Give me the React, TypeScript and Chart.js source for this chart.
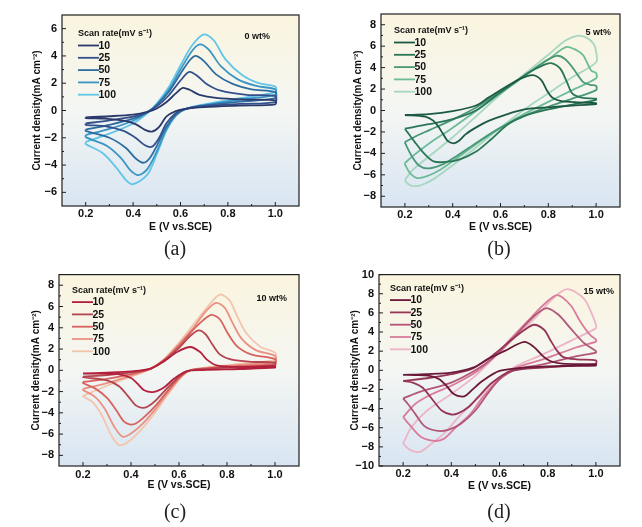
import React from "react"
import { Chart, registerables } from "chart.js"

Chart.register(...registerables)

type Pt = [number, number]

const RATES = ["10", "25", "50", "75", "100"]
const X_TICKS = [0.2, 0.4, 0.6, 0.8, 1.0]
const X_MINOR = [0.3, 0.5, 0.7, 0.9]
const X_TITLE = "E (V vs.SCE)"
const Y_TITLE = "Current density(mA cm\u207B\u00B2)"
const LEGEND_TITLE = "Scan rate(mV s\u207B\u00B9)"

// (a) 0 wt%  — each loop: anodic sweep 0.2 -> 1.0, then cathodic sweep 1.0 -> 0.2
const A10: Pt[] = [[0.2,-0.5],[0.3,-0.42],[0.4,-0.3],[0.46,-0.1],[0.5,0.15],[0.54,0.6],[0.58,1.25],[0.61,1.66],[0.64,1.5],[0.68,1.15],[0.75,0.92],[0.87,0.8],[1.0,0.75],
  [1.0,0.45],[0.85,0.36],[0.7,0.25],[0.62,0.12],[0.58,-0.05],[0.54,-0.45],[0.51,-1.2],[0.48,-1.55],[0.45,-1.42],[0.41,-1.0],[0.36,-0.75],[0.28,-0.6],[0.2,-0.55]]
const A25: Pt[] = [[0.2,-0.95],[0.3,-0.72],[0.4,-0.45],[0.46,-0.12],[0.5,0.3],[0.55,1.1],[0.6,2.2],[0.637,2.83],[0.67,2.55],[0.71,1.95],[0.77,1.45],[0.88,1.15],[1.0,1.05],
  [1.0,0.62],[0.85,0.48],[0.7,0.32],[0.62,0.12],[0.58,-0.2],[0.54,-0.95],[0.51,-2.0],[0.48,-2.65],[0.45,-2.55],[0.41,-2.0],[0.36,-1.5],[0.28,-1.15],[0.2,-1.05]]
const A50: Pt[] = [[0.2,-1.4],[0.3,-1.05],[0.4,-0.6],[0.46,-0.12],[0.5,0.4],[0.55,1.35],[0.6,2.7],[0.64,3.7],[0.665,4.0],[0.7,3.6],[0.75,2.65],[0.82,1.95],[0.9,1.55],[1.0,1.35],
  [1.0,0.9],[0.85,0.65],[0.7,0.35],[0.62,0.1],[0.58,-0.3],[0.54,-1.2],[0.5,-2.6],[0.47,-3.5],[0.443,-3.83],[0.41,-3.5],[0.37,-2.75],[0.3,-2.0],[0.2,-1.5]]
const A75: Pt[] = [[0.2,-1.8],[0.3,-1.35],[0.4,-0.75],[0.46,-0.15],[0.5,0.45],[0.55,1.5],[0.6,3.0],[0.65,4.4],[0.682,4.85],[0.72,4.45],[0.77,3.25],[0.84,2.3],[0.92,1.8],[1.0,1.55],
  [1.0,1.15],[0.85,0.8],[0.7,0.4],[0.62,0.1],[0.58,-0.35],[0.54,-1.4],[0.5,-3.0],[0.46,-4.3],[0.423,-4.73],[0.39,-4.4],[0.35,-3.5],[0.29,-2.6],[0.2,-1.95]]
const A100: Pt[] = [[0.2,-2.3],[0.3,-1.7],[0.4,-0.95],[0.46,-0.2],[0.5,0.5],[0.55,1.7],[0.6,3.3],[0.65,4.8],[0.7,5.58],[0.74,5.15],[0.79,3.75],[0.86,2.6],[0.93,2.0],[1.0,1.75],
  [1.0,1.35],[0.85,0.9],[0.7,0.45],[0.62,0.1],[0.58,-0.4],[0.54,-1.5],[0.5,-3.2],[0.46,-4.7],[0.4,-5.4],[0.37,-5.1],[0.33,-4.2],[0.27,-3.1],[0.2,-2.45]]

// (b) 5 wt%
const B10: Pt[] = [[0.2,-0.42],[0.3,-0.34],[0.4,-0.06],[0.495,0.44],[0.55,1.2],[0.62,2.16],[0.68,2.94],[0.735,3.3],[0.77,2.85],[0.795,1.84],[0.816,1.22],[0.85,0.9],[0.93,0.75],[1.0,0.68],
  [1.0,0.6],[0.9,0.45],[0.8,0.3],[0.7,0.1],[0.62,-0.4],[0.55,-0.97],[0.5,-1.55],[0.455,-2.2],[0.425,-2.85],[0.405,-3.06],[0.38,-2.85],[0.36,-2.2],[0.34,-1.5],[0.32,-0.97],[0.285,-0.58],[0.2,-0.42]]
const B25: Pt[] = [[0.2,-1.7],[0.3,-1.28],[0.4,-0.81],[0.495,-0.03],[0.58,1.37],[0.65,2.47],[0.72,3.56],[0.775,4.19],[0.812,4.42],[0.85,3.9],[0.878,2.65],[0.9,1.6],[0.94,1.2],[1.0,1.1],
  [1.0,1.0],[0.9,0.55],[0.8,0.1],[0.7,-0.5],[0.63,-1.3],[0.56,-2.7],[0.5,-3.8],[0.43,-4.55],[0.37,-4.8],[0.32,-4.75],[0.28,-4.0],[0.24,-2.9],[0.2,-1.7]]
const B50: Pt[] = [[0.2,-2.95],[0.25,-2.35],[0.3,-1.85],[0.4,-0.85],[0.5,0.3],[0.6,1.75],[0.7,3.25],[0.78,4.5],[0.835,5.1],[0.87,4.8],[0.905,3.9],[0.946,2.65],[0.975,2.4],[1.0,2.3],
  [1.0,1.9],[0.9,1.1],[0.8,0.35],[0.7,-0.5],[0.6,-1.6],[0.5,-3.0],[0.42,-4.2],[0.36,-5.0],[0.3,-5.4],[0.26,-5.15],[0.23,-4.3],[0.2,-3.0]]
const B75: Pt[] = [[0.2,-4.9],[0.23,-4.3],[0.3,-3.1],[0.4,-1.6],[0.5,0.0],[0.6,1.6],[0.7,3.2],[0.8,4.75],[0.876,5.93],[0.92,5.6],[0.946,5.15],[0.98,3.7],[1.0,3.5],
  [1.0,3.0],[0.9,1.9],[0.8,0.8],[0.7,-0.3],[0.6,-1.6],[0.5,-3.1],[0.42,-4.4],[0.35,-5.5],[0.29,-6.15],[0.25,-6.3],[0.22,-5.8],[0.2,-5.0]]
const B100: Pt[] = [[0.2,-6.5],[0.23,-5.6],[0.3,-4.3],[0.4,-2.5],[0.5,-0.5],[0.6,1.5],[0.7,3.4],[0.8,5.2],[0.87,6.5],[0.92,6.97],[0.96,6.8],[0.99,6.2],[1.0,5.5],
  [1.0,4.5],[0.9,3.1],[0.8,1.6],[0.7,0.1],[0.6,-1.6],[0.5,-3.4],[0.4,-5.1],[0.32,-6.4],[0.27,-6.95],[0.235,-7.05],[0.21,-6.8],[0.2,-6.5]]

// (c) 10 wt%
const C10: Pt[] = [[0.2,-0.3],[0.3,-0.22],[0.4,-0.1],[0.482,0.16],[0.537,0.84],[0.592,1.72],[0.647,2.19],[0.688,1.72],[0.715,1.03],[0.757,0.47],[0.867,0.31],[1.0,0.38],
  [1.0,0.25],[0.85,0.12],[0.7,0.02],[0.63,-0.1],[0.58,-0.78],[0.54,-1.56],[0.496,-2.03],[0.455,-1.88],[0.427,-1.25],[0.4,-0.72],[0.345,-0.36],[0.2,-0.3]]
const C25: Pt[] = [[0.2,-0.6],[0.3,-0.45],[0.4,-0.2],[0.482,0.16],[0.54,0.95],[0.6,2.1],[0.645,3.2],[0.681,3.75],[0.71,3.4],[0.74,2.4],[0.77,1.5],[0.82,1.0],[0.9,0.8],[1.0,0.72],
  [1.0,0.45],[0.85,0.3],[0.7,0.12],[0.64,-0.05],[0.6,-0.6],[0.55,-1.7],[0.5,-2.9],[0.47,-3.4],[0.447,-3.53],[0.42,-3.3],[0.39,-2.5],[0.35,-1.5],[0.3,-0.95],[0.2,-0.65]]
const C50: Pt[] = [[0.2,-1.1],[0.3,-0.8],[0.4,-0.35],[0.482,0.16],[0.54,1.0],[0.6,2.3],[0.65,3.6],[0.7,4.7],[0.736,5.22],[0.77,4.8],[0.8,3.6],[0.84,2.3],[0.9,1.5],[1.0,1.05],
  [1.0,0.6],[0.85,0.38],[0.7,0.15],[0.64,-0.05],[0.6,-0.7],[0.55,-2.0],[0.5,-3.4],[0.45,-4.5],[0.42,-5.0],[0.397,-5.1],[0.37,-4.8],[0.34,-3.8],[0.3,-2.6],[0.25,-1.7],[0.2,-1.2]]
const C75: Pt[] = [[0.2,-1.75],[0.3,-1.2],[0.4,-0.5],[0.482,0.16],[0.54,1.05],[0.6,2.45],[0.66,4.0],[0.71,5.5],[0.754,6.34],[0.79,5.9],[0.82,4.6],[0.86,3.0],[0.92,1.9],[1.0,1.35],
  [1.0,0.8],[0.85,0.5],[0.7,0.2],[0.64,-0.05],[0.6,-0.8],[0.55,-2.2],[0.5,-3.7],[0.45,-5.0],[0.4,-5.95],[0.365,-6.25],[0.33,-5.3],[0.29,-3.6],[0.25,-2.5],[0.2,-1.85]]
const C100: Pt[] = [[0.2,-2.4],[0.3,-1.45],[0.4,-0.6],[0.482,0.16],[0.54,1.1],[0.6,2.6],[0.66,4.3],[0.72,6.0],[0.77,7.12],[0.81,6.6],[0.84,5.2],[0.88,3.5],[0.94,2.2],[1.0,1.66],
  [1.0,1.0],[0.85,0.6],[0.7,0.22],[0.64,-0.05],[0.6,-0.9],[0.55,-2.4],[0.5,-4.0],[0.45,-5.4],[0.39,-6.7],[0.351,-7.03],[0.32,-6.2],[0.28,-4.3],[0.24,-3.0],[0.2,-2.45]]

// (d) 15 wt%
const D10: Pt[] = [[0.2,-0.48],[0.3,-0.4],[0.4,-0.24],[0.49,0.28],[0.55,1.14],[0.62,2.0],[0.702,2.97],[0.74,2.5],[0.78,1.48],[0.81,0.97],[0.86,0.69],[1.0,0.62],
  [1.0,0.5],[0.86,0.45],[0.7,0.28],[0.6,-0.07],[0.53,-1.1],[0.49,-1.97],[0.465,-2.55],[0.445,-2.76],[0.41,-2.48],[0.38,-1.62],[0.35,-0.93],[0.31,-0.59],[0.25,-0.5],[0.2,-0.48]]
const D25: Pt[] = [[0.2,-1.1],[0.3,-0.83],[0.4,-0.41],[0.49,0.2],[0.58,1.72],[0.65,3.2],[0.705,4.24],[0.743,4.76],[0.785,4.24],[0.81,3.2],[0.84,2.0],[0.865,1.38],[0.92,1.14],[1.0,1.03],
  [1.0,0.7],[0.92,0.52],[0.78,0.28],[0.65,-0.07],[0.57,-1.28],[0.51,-2.83],[0.47,-3.86],[0.43,-4.48],[0.4,-4.62],[0.36,-4.2],[0.32,-3.0],[0.28,-1.8],[0.24,-1.28],[0.2,-1.1]]
const D50: Pt[] = [[0.2,-2.93],[0.275,-2.2],[0.4,-1.28],[0.5,0.0],[0.57,1.24],[0.65,3.2],[0.72,5.1],[0.77,6.2],[0.8,6.48],[0.845,5.8],[0.894,4.41],[0.95,2.86],[1.0,2.0],
  [1.0,1.85],[0.92,1.48],[0.78,0.62],[0.67,0.1],[0.6,-0.93],[0.55,-2.48],[0.5,-4.2],[0.44,-5.59],[0.39,-6.2],[0.345,-6.34],[0.29,-5.86],[0.25,-4.55],[0.22,-3.52],[0.2,-2.93]]
const D75: Pt[] = [[0.2,-4.9],[0.25,-3.52],[0.32,-2.48],[0.4,-1.62],[0.5,-0.24],[0.57,1.24],[0.65,3.38],[0.735,5.62],[0.79,7.0],[0.84,7.86],[0.895,6.8],[0.935,5.1],[0.975,3.72],[1.0,3.2],
  [1.0,3.0],[0.92,2.41],[0.78,1.14],[0.67,0.28],[0.6,-0.93],[0.53,-2.83],[0.48,-4.55],[0.42,-5.93],[0.37,-7.14],[0.33,-7.38],[0.275,-6.97],[0.235,-5.93],[0.2,-4.9]]
const D100: Pt[] = [[0.2,-7.66],[0.235,-5.93],[0.3,-4.2],[0.4,-2.48],[0.495,-0.69],[0.55,0.62],[0.62,2.34],[0.69,4.07],[0.76,5.8],[0.815,7.34],[0.88,8.48],[0.95,7.5],[0.985,5.8],[1.0,4.76],
  [1.0,4.4],[0.92,3.38],[0.78,1.66],[0.67,0.45],[0.6,-0.76],[0.5,-3.17],[0.43,-4.9],[0.37,-6.6],[0.31,-7.83],[0.27,-8.52],[0.23,-8.34],[0.2,-7.66]]

const A_TICKS = [-6, -4, -2, 0, 2, 4, 6]
const A_MINOR = [-5, -3, -1, 1, 3, 5]
const BC_TICKS = [-8, -6, -4, -2, 0, 2, 4, 6, 8]
const BC_MINOR = [-7, -5, -3, -1, 1, 3, 5, 7]
const D_TICKS = [-10, -8, -6, -4, -2, 0, 2, 4, 6, 8, 10]
const D_MINOR = [-9, -7, -5, -3, -1, 1, 3, 5, 7, 9]

const FONT = "'Liberation Sans', Arial, sans-serif"

type Panel = {
  tag: string
  caption: string
  curves: Pt[][]
  colors: string[]
  yMin: number
  yMax: number
  yTicks: number[]
  yMinor: number[]
  left: number
  top: number
  w: number
  h: number
  yAxisW: number
  padTop: number
  yTitlePad: number
  xTitlePad: number
  xLabelPad: number
  legend: [number, number]
  tagPos: [number, number]
  capPos: [number, number]
}

const PANELS: Panel[] = [
  {
    tag: "0 wt%", caption: "(a)", curves: [A10, A25, A50, A75, A100],
    colors: ["#2b3a6c", "#34508c", "#2d6c9f", "#3a95c7", "#63c5e7"],
    yMin: -7, yMax: 7, yTicks: A_TICKS, yMinor: A_MINOR,
    left: 0, top: 0, w: 321, h: 240, yAxisW: 62, padTop: 15,
    yTitlePad: 31, xTitlePad: 7, xLabelPad: 1,
    legend: [16, 19], tagPos: [29, 22], capPos: [175, 248],
  },
  {
    tag: "5 wt%", caption: "(b)", curves: [B10, B25, B50, B75, B100],
    colors: ["#1d5a44", "#2a7757", "#4a9878", "#6dbb97", "#a8d7c0"],
    yMin: -9, yMax: 9, yTicks: BC_TICKS, yMinor: BC_MINOR,
    left: 321, top: 0, w: 321, h: 241, yAxisW: 60, padTop: 14,
    yTitlePad: 31, xTitlePad: 7.2, xLabelPad: 1.5,
    legend: [13, 17], tagPos: [9, 19], capPos: [499, 248],
  },
  {
    tag: "10 wt%", caption: "(c)", curves: [C10, C25, C50, C75, C100],
    colors: ["#b3203c", "#b4444e", "#d8625d", "#ea9182", "#f2c5ad"],
    yMin: -9, yMax: 9, yTicks: BC_TICKS, yMinor: BC_MINOR,
    left: 0, top: 263, w: 321, h: 237, yAxisW: 59, padTop: 9,
    yTitlePad: 30, xTitlePad: 8.2, xLabelPad: 2.5,
    legend: [13, 16], tagPos: [12, 24], capPos: [175, 511],
  },
  {
    tag: "15 wt%", caption: "(d)", curves: [D10, D25, D50, D75, D100],
    colors: ["#6b1838", "#963656", "#b25777", "#d97b9b", "#ecb4c7"],
    yMin: -10, yMax: 10, yTicks: D_TICKS, yMinor: D_MINOR,
    left: 321, top: 263, w: 321, h: 237, yAxisW: 58, padTop: 8,
    yTitlePad: 28, xTitlePad: 7.2, xLabelPad: 1.5,
    legend: [11, 14], tagPos: [6, 17], capPos: [499, 511],
  },
]

const fmtY = (v: number) => (v < 0 ? "\u2212" + Math.abs(v) : String(v))

const CVPanel = ({ p }: { p: Panel }) => {
  const chartRef = React.useRef<HTMLCanvasElement>(null)

  React.useEffect(() => {
    if (chartRef.current == null) {
      return
    }

    const decor = {
      id: "decor",
      beforeDraw(chart: any) {
        const { ctx, chartArea: a } = chart
        const g = ctx.createLinearGradient(0, a.top, 0, a.bottom)
        g.addColorStop(0, "#fbf5df")
        g.addColorStop(0.5, "#f4f6f3")
        g.addColorStop(1, "#d8e5f2")
        ctx.save()
        ctx.fillStyle = g
        ctx.fillRect(a.left, a.top, a.right - a.left, a.bottom - a.top)
        ctx.restore()
      },
      afterDraw(chart: any) {
        const { ctx, chartArea: a, scales } = chart
        const xs = scales.x
        const ys = scales.y
        ctx.save()
        // frame
        ctx.strokeStyle = "#1e1e1e"
        ctx.lineWidth = 1.2
        ctx.strokeRect(a.left, a.top, a.right - a.left, a.bottom - a.top)
        // inward ticks
        ctx.lineWidth = 1
        const tick = (v: number, len: number, horiz: boolean) => {
          ctx.beginPath()
          if (horiz) {
            const px = xs.getPixelForValue(v)
            ctx.moveTo(px, a.bottom)
            ctx.lineTo(px, a.bottom - len)
          } else {
            const py = ys.getPixelForValue(v)
            ctx.moveTo(a.left, py)
            ctx.lineTo(a.left + len, py)
          }
          ctx.stroke()
        }
        X_TICKS.forEach((v) => tick(v, 4, true))
        X_MINOR.forEach((v) => tick(v, 2, true))
        p.yTicks.forEach((v) => tick(v, 4, false))
        p.yMinor.forEach((v) => tick(v, 2, false))

        // legend inside plot area
        const lx = a.left + p.legend[0]
        const ly = a.top + p.legend[1]
        ctx.fillStyle = "#111"
        ctx.textBaseline = "middle"
        ctx.textAlign = "left"
        ctx.font = `bold 9px ${FONT}`
        ctx.fillText(LEGEND_TITLE, lx, ly)
        chart.data.datasets.forEach((ds: any, i: number) => {
          const y = ly + 11.5 + i * 12.3
          ctx.strokeStyle = ds.borderColor
          ctx.lineWidth = 1.8
          ctx.beginPath()
          ctx.moveTo(lx, y)
          ctx.lineTo(lx + 21, y)
          ctx.stroke()
          ctx.font = `bold 10.5px ${FONT}`
          ctx.fillStyle = "#111"
          ctx.fillText(ds.label, lx + 20.5, y + 0.5)
        })

        // sample tag
        ctx.textAlign = "right"
        ctx.font = `bold 9px ${FONT}`
        ctx.fillText(p.tag, a.right - p.tagPos[0], a.top + p.tagPos[1])
        ctx.restore()
      },
    }

    const chart = new Chart(chartRef.current, {
      type: "scatter",
      data: {
        datasets: p.curves.map((pts, i) => ({
          label: RATES[i],
          data: [...pts, pts[0]].map(([x, y]) => ({ x, y })),
          showLine: true,
          borderColor: p.colors[i],
          borderWidth: 1.8,
          pointRadius: 0,
          tension: 0.3,
          fill: false,
        })),
      },
      options: {
        responsive: false,
        animation: false,
        layout: { padding: { left: 0, right: 22, top: p.padTop, bottom: 0 } },
        plugins: {
          legend: { display: false },
          tooltip: { enabled: false },
        },
        scales: {
          x: {
            type: "linear",
            min: 0.1,
            max: 1.1,
            afterBuildTicks: (s: any) => {
              s.ticks = X_TICKS.map((v) => ({ value: v }))
            },
            afterFit: (s: any) => {
              s.height = 34
            },
            grid: { display: false, drawTicks: false },
            border: { display: false },
            ticks: {
              padding: p.xLabelPad,
              maxRotation: 0,
              color: "#111",
              font: { family: FONT, weight: "bold", size: 11 },
              callback: (v: any) => Number(v).toFixed(1),
            },
            title: {
              display: true,
              text: X_TITLE,
              color: "#111",
              padding: { top: 0, bottom: p.xTitlePad },
              font: { family: FONT, weight: "bold", size: 10.5 },
            },
          },
          y: {
            type: "linear",
            min: p.yMin,
            max: p.yMax,
            afterBuildTicks: (s: any) => {
              s.ticks = p.yTicks.map((v) => ({ value: v }))
            },
            afterFit: (s: any) => {
              s.width = p.yAxisW
            },
            grid: { display: false, drawTicks: false },
            border: { display: false },
            ticks: {
              padding: 5,
              color: "#111",
              font: { family: FONT, weight: "bold", size: 11 },
              callback: (v: any) => fmtY(Number(v)),
            },
            title: {
              display: true,
              text: Y_TITLE,
              color: "#111",
              padding: { top: p.yTitlePad, bottom: 0 },
              font: { family: FONT, weight: "bold", size: 10 },
            },
          },
        },
      },
      plugins: [decor],
    } as any)

    return () => {
      chart.destroy()
    }
  }, [p])

  return (
    <>
      <canvas
        ref={chartRef}
        width={p.w}
        height={p.h}
        style={{ position: "absolute", left: p.left, top: p.top, width: p.w, height: p.h }}
      />
      <div
        style={{
          position: "absolute",
          left: p.capPos[0],
          top: p.capPos[1],
          transform: "translate(-50%, -50%)",
          fontFamily: "'Liberation Serif', 'Times New Roman', serif",
          fontSize: 20,
          color: "#222",
          lineHeight: 1,
        }}
      >
        {p.caption}
      </div>
    </>
  )
}

export default function App() {
  return (
    <div style={{ position: "absolute", left: 0, top: 0, width: 642, height: 527, background: "#fff" }}>
      {PANELS.map((p) => (
        <CVPanel key={p.caption} p={p} />
      ))}
    </div>
  )
}
